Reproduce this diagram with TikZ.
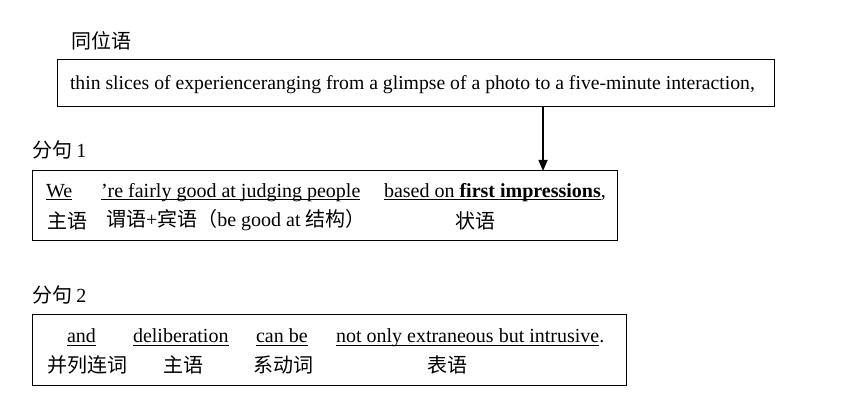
\documentclass[tikz,border=0pt]{standalone}
\usepackage{fontspec}
\setmainfont{Liberation Serif}
\newfontfamily\cjk{Noto Sans CJK SC}
\usetikzlibrary{arrows.meta}
\begin{document}
\begin{tikzpicture}[x=1pt,y=-1pt,
  every node/.style={inner sep=0pt,outer sep=0pt,font=\fontsize{20}{24}\selectfont},
  frame/.style={draw,line width=1pt,minimum width=#1},
  txt/.style={anchor=base west},
  lbl/.style={anchor=west,font=\fontsize{20}{24}\selectfont\cjk},
  ul/.style={line width=1pt}]
\useasboundingbox (0,0) rectangle (863,409);
% frames
\node[frame=717pt,minimum height=47pt] (top) at (415.5,83.5) {};
\node[frame=585pt,minimum height=70pt] (c1) at (324.5,206) {};
\node[frame=594pt,minimum height=71pt] (c2) at (329,349.5) {};
% labels
\node[lbl] (l0) at (71,40.5) {同位语};
\node[lbl] (l1) at (32,150) {分句\ \fontspec{Liberation Serif}1};
\node[lbl] (l2) at (32,295) {分句\ \fontspec{Liberation Serif}2};
% top text
\node[txt,font=\fontsize{19.7}{24}\selectfont] (t0) at (70,90) {thin slices of experienceranging from a glimpse of a photo to a five-minute interaction,};
% clause 1 row 1
\node[txt] (a1) at (46,197) {We};
\node[txt] (a2) at (101,197) {’re fairly good at judging people};
\node[txt] (a3) at (384,197) {based on \textbf{first impressions}};
\node[txt] (a4) at (a3.base east) {,};
\draw[ul] ([yshift=-3pt]a1.base west) -- ([yshift=-3pt]a1.base east);
\draw[ul] ([yshift=-3pt]a2.base west) -- ([yshift=-3pt]a2.base east);
\draw[ul] ([yshift=-3pt]a3.base west) -- ([yshift=-3pt]a3.base east);
% clause 1 row 2
\node[lbl] (b1) at (47,220.5) {主语};
\node[lbl] (b2) at (106,220.5) {谓语{\fontspec{Liberation Serif}+}宾语（{\fontspec{Liberation Serif}be good at }结构）};
\node[lbl] (b3) at (455,220.5) {状语};
% clause 2 row 1
\node[txt] (d1) at (67,342) {and};
\node[txt] (d2) at (133,342) {deliberation};
\node[txt] (d3) at (256,342) {can be};
\node[txt] (d4) at (336,342) {not only extraneous but intrusive};
\node[txt] (d5) at (d4.base east) {.};
\draw[ul] ([yshift=-3pt]d1.base west) -- ([yshift=-3pt]d1.base east);
\draw[ul] ([yshift=-3pt]d2.base west) -- ([yshift=-3pt]d2.base east);
\draw[ul] ([yshift=-3pt]d3.base west) -- ([yshift=-3pt]d3.base east);
\draw[ul] ([yshift=-3pt]d4.base west) -- ([yshift=-3pt]d4.base east);
% clause 2 row 2
\node[lbl] (e1) at (47,365) {并列连词};
\node[lbl] (e2) at (163,365) {主语};
\node[lbl] (e3) at (253,365) {系动词};
\node[lbl] (e4) at (427,365) {表语};
% arrow
\coordinate (ax) at (543,0);
\draw[line width=1.5pt,-{Triangle[length=11pt,width=9pt]}] (top.south -| ax) -- (c1.north -| ax);
\end{tikzpicture}
\end{document}
